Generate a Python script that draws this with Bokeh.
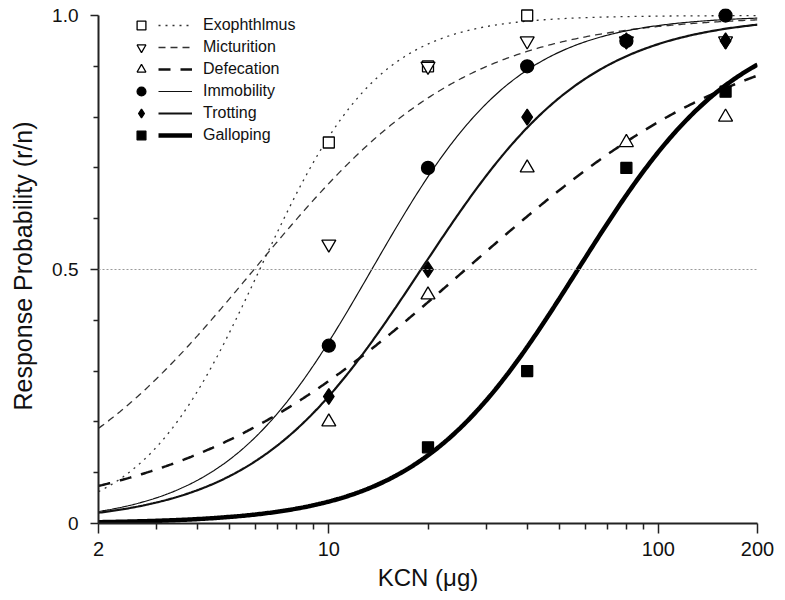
import numpy as np
from bokeh.plotting import figure
from bokeh.models import (FixedTicker, PrintfTickFormatter, Span, Legend, LegendItem)
from bokeh.embed import file_html
from bokeh.resources import INLINE

# ---------------- data ----------------
series_names = ["Exophthlmus", "Micturition", "Defecation", "Immobility", "Trotting", "Galloping"]

exo_x = [10, 20, 40]
exo_y = [0.75, 0.90, 1.00]
mic_x = [10, 20, 40, 80, 160]
mic_y = [0.55, 0.90, 0.95, 0.95, 0.95]
def_x = [10, 20, 40, 80, 160]
def_y = [0.20, 0.45, 0.70, 0.75, 0.80]
imm_x = [10, 20, 40, 80, 160]
imm_y = [0.35, 0.70, 0.90, 0.95, 1.00]
tro_x = [10, 20, 40, 80, 160]
tro_y = [0.25, 0.50, 0.80, 0.95, 0.95]
gal_x = [20, 40, 80, 160]
gal_y = [0.15, 0.30, 0.70, 0.85]

# fitted logistic dose-response curves: ED50 (ug) and slope (per log10 dose)
ed50 = [6.17, 5.93, 26.0, 13.5, 19.05, 57.0]
slope = [2.4, 1.35, 0.985, 1.95, 1.7, 1.78]

x_ticks = [2, 10, 100, 200]
x_minor = [3, 4, 5, 6, 7, 8, 9, 20, 30, 40, 50, 60, 70, 80, 90]
y_ticks = [0, 0.5, 1.0]
y_tick_labels = {0: "0", 0.5: "0.5", 1: "1.0"}
y_minor = [0.1, 0.2, 0.3, 0.4, 0.6, 0.7, 0.8, 0.9]
ref_level = 0.5

# ---------------- styles ----------------
line_dashes = ["2 5", "7 5", "12 10", "solid", "solid", "solid"]
line_widths = [1.3, 1.3, 2.5, 1.2, 2.2, 4.5]
line_colors = ["#333333", "#333333", "#111111", "#111111", "#111111", "#000000"]
markers = ["square", "inverted_triangle", "triangle", "circle", "diamond", "square"]
filled = [False, False, False, True, True, True]
marker_sizes = [11, 14, 14, 13, 16, 11]

FONT = "Liberation Sans"
TXT = "#111111"

W, H = 780, 598
BL, BT = 98, 8
BR = W - 757
BB = H - 523
frame_h = H - BT - BB          # 515
unit_px = 508.0                # px per probability unit
y_top = frame_h / unit_px

p = figure(width=W, height=H, x_axis_type="log", x_range=(2, 200), y_range=(0, y_top),
           output_backend="svg", toolbar_location=None,
           min_border_left=BL, min_border_right=BR, min_border_top=BT, min_border_bottom=BB)
p.outline_line_color = None
p.xgrid.visible = False
p.ygrid.visible = False
p.background_fill_color = "white"

# 0.5 reference line
p.add_layout(Span(location=ref_level, dimension="width", line_color="#9a9a9a",
                  line_dash="2 2", line_width=1))

xs = np.logspace(np.log10(2), np.log10(200), 400)
pts_x = [exo_x, mic_x, def_x, imm_x, tro_x, gal_x]
pts_y = [exo_y, mic_y, def_y, imm_y, tro_y, gal_y]

line_r = []
for i in range(6):
    ys = 1.0 / (1.0 + (ed50[i] / xs) ** slope[i])
    r = p.line(xs, ys, line_color=line_colors[i], line_width=line_widths[i],
               line_dash=line_dashes[i])
    line_r.append(r)

mark_r = []
for i in range(6):
    r = p.scatter(pts_x[i], pts_y[i], marker=markers[i], size=marker_sizes[i],
                  line_color="black", line_width=1.3,
                  fill_color="black" if filled[i] else "white")
    mark_r.append(r)

# axes
p.xaxis.ticker = FixedTicker(ticks=x_ticks, minor_ticks=x_minor)
p.xaxis.formatter = PrintfTickFormatter(format="%d")
p.yaxis.ticker = FixedTicker(ticks=y_ticks, minor_ticks=y_minor)
p.yaxis.major_label_overrides = y_tick_labels
p.yaxis.bounds = (0, 1)
for ax in (p.xaxis[0], p.yaxis[0]):
    ax.axis_line_color = "#222222"
    ax.axis_line_width = 2
    ax.major_tick_line_color = "#222222"
    ax.minor_tick_line_color = "#222222"
    ax.major_tick_line_width = 1.5
    ax.minor_tick_line_width = 1.5
    ax.major_tick_in = 0
    ax.minor_tick_in = 0
    ax.major_label_text_font = FONT
    ax.major_label_text_color = TXT
    ax.axis_label_text_font = FONT
    ax.axis_label_text_font_style = "normal"
    ax.axis_label_text_color = TXT
p.xaxis.major_tick_out = 10
p.xaxis.minor_tick_out = 6
p.xaxis.major_label_standoff = 8
p.xaxis.major_label_text_font_size = "20px"
p.xaxis.axis_label = "KCN (\u03bcg)"
p.xaxis.axis_label_text_font_size = "24px"
p.xaxis.axis_label_standoff = 5
p.yaxis.major_tick_out = 8
p.yaxis.minor_tick_out = 5
p.yaxis.major_label_standoff = 12
p.yaxis.major_label_text_font_size = "19px"
p.yaxis.axis_label = "Response Probability (r/n)"
p.yaxis.axis_label_text_font_size = "25px"
p.yaxis.axis_label_standoff = 12

# legend: markers column + line samples with labels
n = len(series_names)
row_h = 22
leg_h = n * row_h
leg_top_from_bottom = frame_h - 6
leg_bottom = leg_top_from_bottom - leg_h
legA = Legend(items=[LegendItem(label=" ", renderers=[mark_r[i]]) for i in range(n)],
              location=(31, leg_bottom), glyph_width=24, glyph_height=row_h,
              label_height=row_h, spacing=0, padding=0, margin=0, label_standoff=0,
              label_text_font_size="2px", background_fill_alpha=0, border_line_alpha=0)
legB = Legend(items=[LegendItem(label=series_names[i], renderers=[line_r[i]]) for i in range(n)],
              location=(60, leg_bottom), glyph_width=34, glyph_height=row_h,
              label_height=row_h, spacing=0, padding=0, margin=0, label_standoff=11,
              label_text_font=FONT, label_text_font_size="16px", label_text_color=TXT,
              background_fill_alpha=0, border_line_alpha=0)
p.add_layout(legA)
p.add_layout(legB)

open("out.html", "w").write(file_html(p, INLINE))
